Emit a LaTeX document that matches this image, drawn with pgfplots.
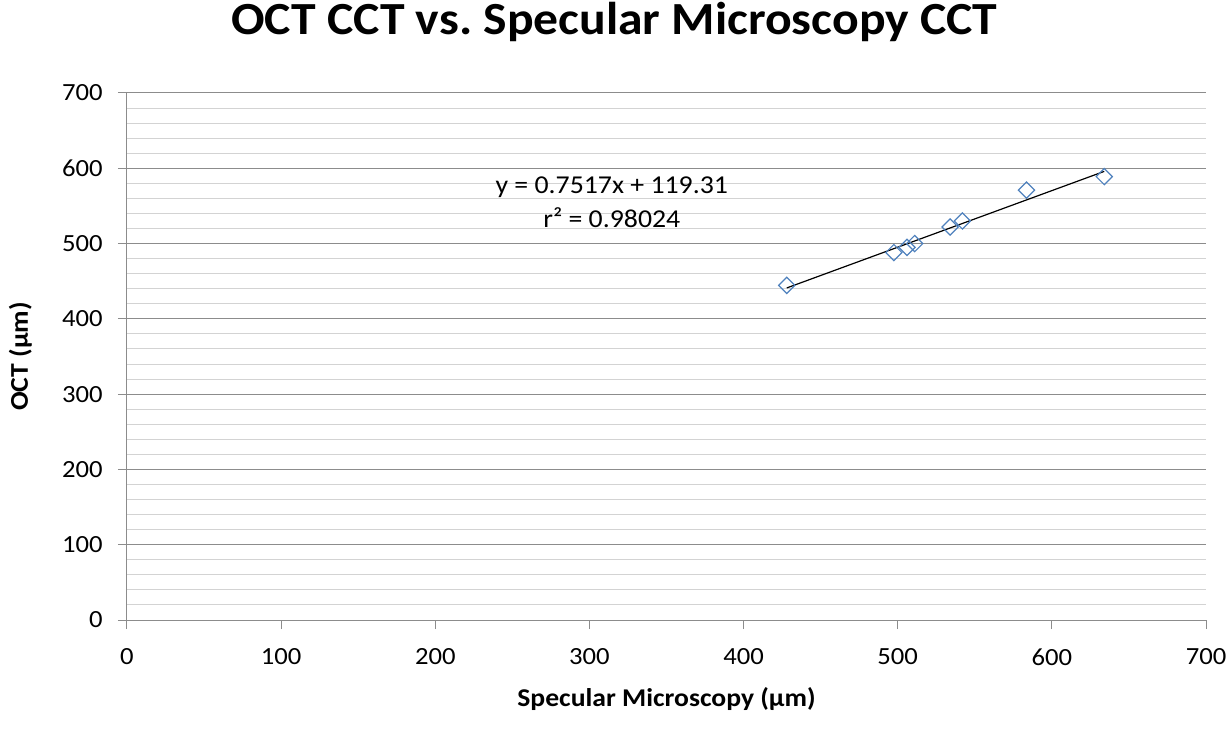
\documentclass[border=0pt]{standalone}
\usepackage{fontspec}
\setmainfont{Carlito}[FakeStretch=1.08]
\usepackage{pgfplots}
\pgfplotsset{compat=1.18}
\definecolor{mkblue}{HTML}{4F81BD}
\definecolor{majgrid}{HTML}{8C8C8C}
\definecolor{mingrid}{HTML}{D3D3D3}
\frenchspacing
\begin{document}
\begin{tikzpicture}
\begin{axis}[
 scale only axis, width=809.25pt, height=395.25pt,
 xmin=0, xmax=700, ymin=0, ymax=700,
 xtick={0,100,...,700}, ytick={0,100,...,700},
 minor y tick num=4,
 axis lines=left,
 axis line style={-, draw=majgrid, line width=0.75pt},
 ymajorgrids, yminorgrids,
 major grid style={draw=majgrid, line width=0.75pt},
 minor grid style={draw=mingrid, line width=0.75pt},
 tick align=outside, major tick length=6.75pt, minor tick length=0pt,
 tick style={draw=majgrid, line width=0.75pt},
 /pgf/number format/assume math mode=true,
 ticklabel style={font=\fontsize{18.5}{22}\selectfont},
 xticklabel style={yshift=-11pt},
 yticklabel style={xshift=-8pt},
 title={OCT CCT vs.\ Specular Microscopy CCT},
 title style={at={(axis description cs:0.4518,1)}, anchor=base, yshift=37.5pt, font=\bfseries\fontsize{34.5}{40}\selectfont},
 xlabel={Specular Microscopy (µm)},
 xlabel style={at={(axis description cs:0.5,0)}, anchor=base, yshift=-65pt, font=\bfseries\fontsize{19.2}{23}\selectfont},
 ylabel={OCT (µm)},
 ylabel style={at={(axis description cs:0,0.5)}, anchor=center, yshift=80pt, font=\bfseries\fontsize{19.2}{23}\selectfont},
]
\addplot[only marks, mark=square, mark size=4.3pt, mark options={rotate=45, draw=mkblue, line width=0.9pt, fill=none}] coordinates {
 (428,444.5) (497.5,488) (506,495) (511,500) (534,522) (542,530) (583.5,571) (634,589)
};
\addplot[black, line width=0.9pt] coordinates {(428,441.04) (634,595.89)};
\node[anchor=base, font=\fontsize{19.3}{23}\selectfont] at (axis cs:314.5,566.5) {y = 0.7517x + 119.31};
\node[anchor=base, font=\fontsize{19.3}{23}\selectfont] at (axis cs:314.5,521.7) {r² = 0.98024};
\end{axis}
\pgfresetboundingbox
\path[use as bounding box] ([xshift=-95.25pt,yshift=-83.25pt]current axis.south west) rectangle ([xshift=17.25pt,yshift=69.75pt]current axis.north east);
\end{tikzpicture}
\end{document}
